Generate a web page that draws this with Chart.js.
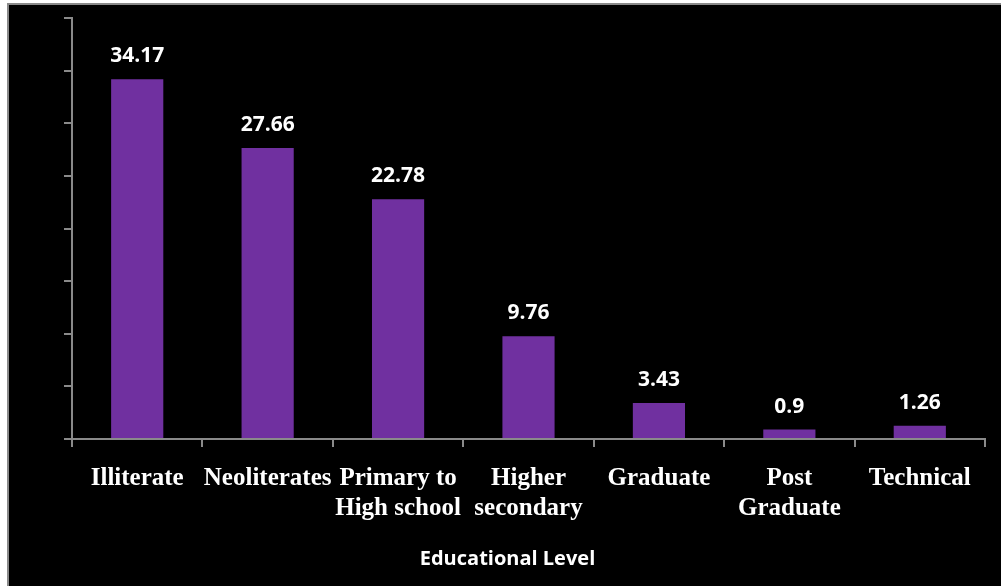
<!DOCTYPE html>
<html>
<head>
<meta charset="utf-8">
<script src="https://cdn.jsdelivr.net/npm/chart.js@4"></script>
<style>
  html, body { margin: 0; padding: 0; background: #fff; overflow: hidden; }
  #frame {
    position: absolute; left: 7px; top: 3px; width: 1000px; height: 590px;
    background: #000; border-left: 2px solid #8a8a8a; border-top: 2px solid #8a8a8a;
  }
  #wrap { position: absolute; left: 0; top: 0; width: 1001px; height: 586px; }
</style>
</head>
<body>
<div id="frame"></div>
<div id="wrap"><canvas id="barChart" width="1001" height="586"></canvas></div>
<script>
// education level shares
var levels = ["Illiterate", "Neoliterates", ["Primary to", "High school"], ["Higher", "secondary"],
              "Graduate", ["Post", "Graduate"], "Technical"];
var shares = [34.17, 27.66, 22.78, 9.76, 3.43, 0.9, 1.26];
var yTicks = [0, 5, 10, 15, 20, 25, 30, 35, 40];
var axisTitle = "Educational Level";

// value on top of each bar, plus the axis title under the labels
var barValues = {
    id: 'barValues',
    afterDatasetsDraw: function (chart) {
        var ctx = chart.ctx;
        var meta = chart.getDatasetMeta(0);
        var xs = chart.scales.x;
        ctx.save();
        ctx.fillStyle = "#ffffff";
        ctx.font = "bold 21px 'Open Sans'";
        ctx.textAlign = "center";
        ctx.textBaseline = "alphabetic";
        meta.data.forEach(function (bar, i) {
            ctx.fillText(String(shares[i]), bar.x, bar.y - 17);
        });
        ctx.font = "bold 20px 'Open Sans'";
        ctx.fillText(axisTitle, (xs.left + xs.right) / 2 - 21, xs.bottom - 21);
        ctx.restore();
    }
};

window.onload = function () {
    var ctx = document.getElementById("barChart").getContext('2d');
    var myBarChart = new Chart(ctx, {
        type: 'bar',
        data: {
            labels: levels,
            datasets: [{
                data: shares,
                backgroundColor: "#7030A0",
                barPercentage: 0.4,
                categoryPercentage: 1.0
            }]
        },
        options: {
            responsive: false,
            animation: false,
            layout: { padding: { left: 0, right: 16, top: 18, bottom: 0 } },
            plugins: {
                legend: { display: false },
                tooltip: { enabled: false }
            },
            scales: {
                x: {
                    grid: { drawOnChartArea: false, tickLength: 8, color: "#8a8a8a", lineWidth: 2 },
                    border: { color: "#8a8a8a", width: 2 },
                    ticks: {
                        color: "#ffffff",
                        font: { family: "Liberation Serif", size: 25, weight: "bold", lineHeight: 1.2 },
                        padding: 17,
                        autoSkip: false,
                        minRotation: 0,
                        maxRotation: 0
                    },
                    afterFit: function (scale) { scale.height = 147; }
                },
                y: {
                    min: 0,
                    max: 40,
                    afterBuildTicks: function (scale) {
                        scale.ticks = yTicks.map(function (v) { return { value: v }; });
                    },
                    grid: { drawOnChartArea: false, tickLength: 8, color: "#8a8a8a", lineWidth: 2 },
                    border: { color: "#8a8a8a", width: 2 },
                    ticks: { display: false },
                    afterFit: function (scale) { scale.width = 72; }
                }
            }
        },
        plugins: [barValues]
    });
};
</script>
</body>
</html>
